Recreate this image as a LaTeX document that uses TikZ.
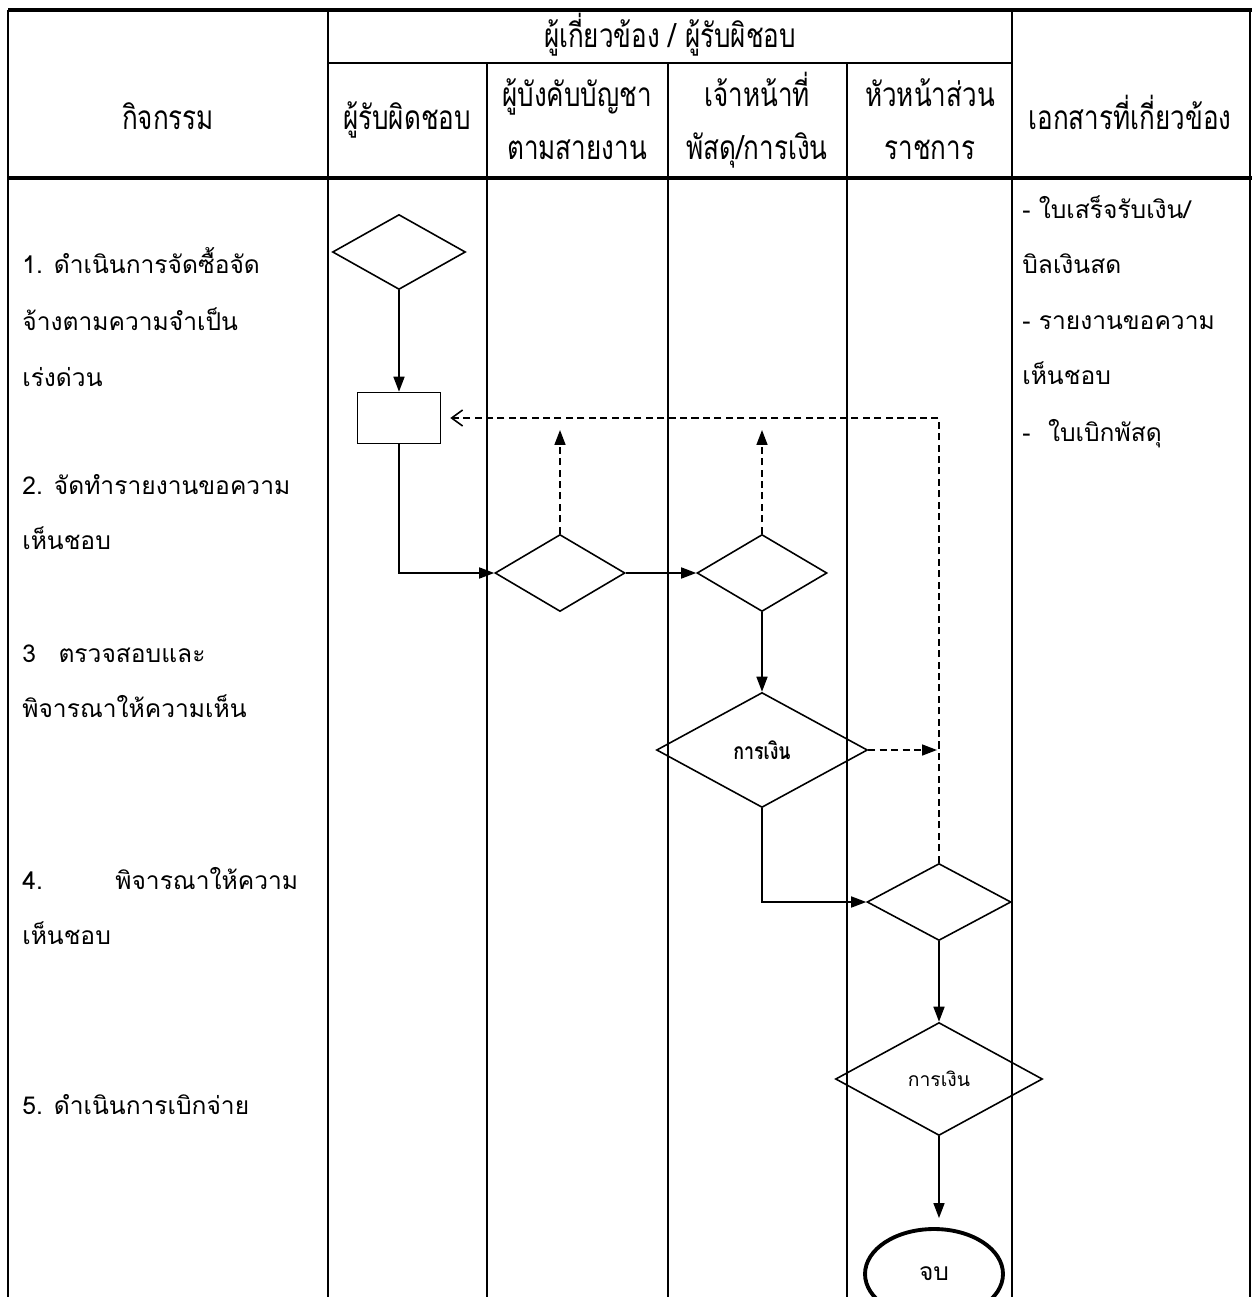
\documentclass[tikz,border=0pt]{standalone}
\usepackage{fontspec}
\setmainfont[Script=Thai]{Loma}
\newfontfamily\thcond[Script=Thai,FakeStretch=0.78]{Loma}
\usetikzlibrary{shapes.geometric,arrows.meta}

\tikzset{
  lane/.style={line width=0.8pt},
  dblline/.style={line width=2pt},
  choice/.style={draw,diamond,inner sep=0pt,line width=0.9pt},
  task/.style={draw,rectangle,inner sep=0pt,line width=0.9pt},
  endnode/.style={draw,ellipse,inner sep=0pt,line width=2.2pt},
  flow/.style={-{Triangle[length=0.3cm,width=0.22cm]},line width=0.9pt},
  upflow/.style={flow,dash pattern=on 4pt off 2.5pt},
  backflow/.style={-{Straight Barb[length=0.22cm,width=0.32cm]},dash pattern=on 4pt off 2.5pt,line width=0.9pt},
  body/.style={anchor=base west,inner sep=0pt,font=\fontsize{14}{16}\selectfont},
  head/.style={anchor=base,inner sep=0pt,font=\thcond\fontsize{19}{21}\selectfont}
}

\begin{document}
\begin{tikzpicture}[x=0.02cm,y=-0.02cm]
  \useasboundingbox (0,0) rectangle (1252,1297);

  % table frame and lanes
  \draw[dblline] (8,10) -- (1252,10);
  \draw[dblline] (8,178) -- (1252,178);
  \draw[lane] (328,63) -- (1012,63);
  \foreach \x in {8,328,1012,1250}
    \draw[lane] (\x,10) -- (\x,1297);
  \foreach \x in {487,668,847}
    \draw[lane] (\x,63) -- (\x,1297);

  % header
  \node[head] (hact) at (168,130) {กิจกรรม};
  \node[head] (hgrp) at (670,48) {ผู้เกี่ยวข้อง / ผู้รับผิชอบ};
  \node[head] (hown) at (407,130) {ผู้รับผิดชอบ};
  \node[head] (hboss1) at (577,107) {ผู้บังคับบัญชา};
  \node[head] (hboss2) at (577,160) {ตามสายงาน};
  \node[head] (hoff1) at (757,107) {เจ้าหน้าที่};
  \node[head] (hoff2) at (757,160) {พัสดุ/การเงิน};
  \node[head] (hchief1) at (930,107) {หัวหน้าส่วน};
  \node[head] (hchief2) at (930,160) {ราชการ};
  \node[head] (hdoc) at (1130,130) {เอกสารที่เกี่ยวข้อง};

  % activities
  \node[body] (a1a) at (22,274) {1. ดำเนินการจัดซื้อจัด};
  \node[body] (a1b) at (22,331) {จ้างตามความจำเป็น};
  \node[body] (a1c) at (22,386) {เร่งด่วน};
  \node[body] (a2a) at (22,494) {2. จัดทำรายงานขอความ};
  \node[body] (a2b) at (22,549) {เห็นชอบ};
  \node[body] (a3a) at (22,662) {3\hskip 0.45cm ตรวจสอบและ};
  \node[body] (a3b) at (22,717) {พิจารณาให้ความเห็น};
  \node[body] (a4a) at (22,889) {4.\hskip 1.45cm พิจารณาให้ความ};
  \node[body] (a4b) at (22,944) {เห็นชอบ};
  \node[body] (a5a) at (22,1114) {5. ดำเนินการเบิกจ่าย};

  % documents
  \node[body] (doc1) at (1022,219) {- ใบเสร็จรับเงิน/};
  \node[body] (doc2) at (1022,274) {บิลเงินสด};
  \node[body] (doc3) at (1022,329) {- รายงานขอความ};
  \node[body] (doc4) at (1022,384) {เห็นชอบ};
  \node[body] (doc5) at (1022,441) {-\hskip 0.35cm ใบเบิกพัสดุ};

  % flow
  \node[choice,minimum width=2.66cm,minimum height=1.5cm] (d1) at (399,252) {};
  \node[task,minimum width=1.66cm,minimum height=1.02cm] (b1) at (399,418) {};
  \node[choice,minimum width=2.6cm,minimum height=1.54cm] (d2) at (560,573) {};
  \node[choice,minimum width=2.6cm,minimum height=1.54cm] (d3) at (762,573) {};
  \node[choice,minimum width=4.22cm,minimum height=2.3cm,
        font=\thcond\bfseries\fontsize{13}{15}\selectfont] (d4) at (762,750) {การเงิน};
  \node[choice,minimum width=2.88cm,minimum height=1.54cm] (d5) at (939,902) {};
  \node[choice,minimum width=4.14cm,minimum height=2.26cm,
        font=\fontsize{11}{13}\selectfont] (d6) at (939,1079) {การเงิน};
  \node[endnode,minimum width=2.76cm,minimum height=1.8cm,
        font=\fontsize{14}{16}\selectfont] (e1) at (934,1274) {จบ};

  \coordinate (u2) at (560,430);
  \coordinate (u3) at (762,430);
  \coordinate (c1) at (d5.north |- b1.east);
  \coordinate (m4) at (d5.north |- d4.east);

  \draw[flow] (d1.south) -- (b1.north);
  \draw[flow] (b1.south) |- (d2.west);
  \draw[flow] (d2.east) -- (d3.west);
  \draw[flow] (d3.south) -- (d4.north);
  \draw[flow] (d4.south) |- (d5.west);
  \draw[flow] (d5.south) -- (d6.north);
  \draw[flow,shorten >=0.18cm] (d6.south) -- (d6.south |- e1.north);
  \draw[upflow] (d2.north) -- (u2);
  \draw[upflow] (d3.north) -- (u3);
  \draw[upflow,shorten >=0.04cm] (d4.east) -- (m4);
  \draw[backflow,shorten >=0.18cm] (d5.north) -- (c1) -- (b1.east);
\end{tikzpicture}
\end{document}
